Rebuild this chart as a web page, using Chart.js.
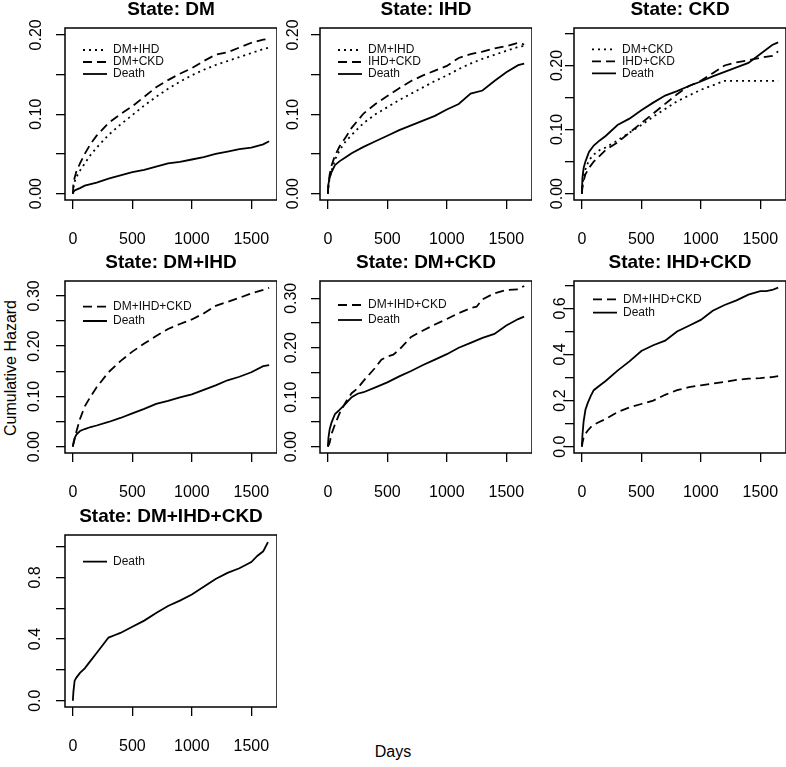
<!DOCTYPE html>
<html>
<head>
<meta charset="utf-8">
<script src="https://cdn.jsdelivr.net/npm/chart.js@4.4.1/dist/chart.umd.min.js"></script>
<style>
  body { margin: 0; background: #fff; width: 786px; height: 767px; position: relative; overflow: hidden;
         font-family: 'Liberation Sans', Arial, sans-serif; }
  canvas { position: absolute; }
  #ylab { position: absolute; left: 11px; top: 368px; transform: translate(-50%, -50%) rotate(-90deg);
          font-size: 16px; white-space: nowrap; }
  #xlab { position: absolute; left: 393px; top: 752px; transform: translate(-50%, -50%); font-size: 16px; }
</style>
</head>
<body>
<div id="ylab">Cumulative Hazard</div>
<div id="xlab">Days</div>
<script>
const gridDays = [0, 5, 15, 30, 60, 100, 150, 200, 300, 400, 500, 600, 700, 800, 900, 1000, 1100, 1200, 1300, 1400, 1500, 1600, 1650];
const p5Days = [0, 5, 15, 30, 60, 100, 150, 200, 250, 300, 400, 450, 500, 550, 600, 700, 800, 900, 1000, 1100, 1200, 1250, 1300, 1400, 1500, 1600, 1650];
const p6Days = [0, 5, 15, 30, 50, 75, 100, 150, 200, 300, 400, 500, 600, 700, 800, 900, 1000, 1100, 1200, 1300, 1400, 1500, 1550, 1600, 1650];
const p7Days = [0, 5, 15, 30, 60, 100, 150, 200, 250, 300, 350, 400, 500, 600, 700, 800, 900, 1000, 1100, 1200, 1300, 1400, 1500, 1550, 1600, 1640];

// State: DM
const p1DmIhd = [0, 0.008, 0.015, 0.021, 0.029, 0.038, 0.049, 0.058, 0.074, 0.087, 0.099, 0.111, 0.122, 0.132, 0.141, 0.149, 0.156, 0.162, 0.167, 0.172, 0.177, 0.182, 0.184];
const p1DmCkd = [0, 0.012, 0.02, 0.028, 0.038, 0.05, 0.063, 0.073, 0.089, 0.1, 0.11, 0.122, 0.134, 0.143, 0.151, 0.158, 0.167, 0.175, 0.178, 0.184, 0.19, 0.194, 0.195];
const p1Death = [0, 0.002, 0.004, 0.005, 0.007, 0.01, 0.012, 0.014, 0.019, 0.023, 0.027, 0.03, 0.034, 0.038, 0.04, 0.043, 0.046, 0.05, 0.053, 0.056, 0.058, 0.062, 0.066];
// State: IHD
const p2DmIhd = [0, 0.01, 0.02, 0.028, 0.043, 0.055, 0.066, 0.074, 0.089, 0.1, 0.109, 0.118, 0.126, 0.134, 0.142, 0.149, 0.157, 0.164, 0.17, 0.175, 0.18, 0.185, 0.186];
const p2IhdCkd = [0, 0.012, 0.024, 0.035, 0.048, 0.06, 0.071, 0.083, 0.101, 0.113, 0.123, 0.133, 0.142, 0.149, 0.155, 0.161, 0.171, 0.176, 0.179, 0.183, 0.186, 0.19, 0.188];
const p2Death = [0, 0.012, 0.02, 0.027, 0.036, 0.041, 0.046, 0.051, 0.059, 0.066, 0.073, 0.08, 0.086, 0.092, 0.098, 0.106, 0.113, 0.126, 0.13, 0.142, 0.153, 0.162, 0.164];
// State: CKD
const p3DmCkd = [0, 0.012, 0.026, 0.038, 0.052, 0.061, 0.068, 0.072, 0.083, 0.095, 0.107, 0.12, 0.132, 0.144, 0.153, 0.162, 0.169, 0.176, 0.176, 0.176, 0.176, 0.176, 0.176];
const p3IhdCkd = [0, 0.01, 0.02, 0.03, 0.04, 0.05, 0.059, 0.068, 0.08, 0.095, 0.11, 0.125, 0.14, 0.155, 0.168, 0.176, 0.188, 0.2, 0.205, 0.208, 0.212, 0.215, 0.222];
const p3Death = [0, 0.025, 0.04, 0.05, 0.065, 0.075, 0.083, 0.09, 0.107, 0.117, 0.13, 0.142, 0.153, 0.16, 0.168, 0.175, 0.183, 0.19, 0.197, 0.204, 0.218, 0.232, 0.236];
// State: DM+IHD
const p4All = [0, 0.005, 0.015, 0.03, 0.055, 0.08, 0.1, 0.118, 0.148, 0.17, 0.189, 0.205, 0.22, 0.234, 0.244, 0.253, 0.265, 0.28, 0.288, 0.296, 0.305, 0.312, 0.316];
const p4Death = [0, 0.008, 0.017, 0.024, 0.031, 0.035, 0.039, 0.042, 0.049, 0.057, 0.066, 0.075, 0.085, 0.091, 0.098, 0.104, 0.113, 0.122, 0.132, 0.139, 0.148, 0.16, 0.162];
// State: DM+CKD
const p5All = [0, 0.002, 0.008, 0.025, 0.045, 0.068, 0.09, 0.108, 0.118, 0.133, 0.16, 0.176, 0.182, 0.186, 0.196, 0.222, 0.235, 0.247, 0.258, 0.27, 0.28, 0.283, 0.298, 0.31, 0.317, 0.318, 0.325];
const p5Death = [0, 0.018, 0.035, 0.048, 0.066, 0.075, 0.087, 0.1, 0.107, 0.11, 0.12, 0.125, 0.13, 0.136, 0.142, 0.153, 0.165, 0.176, 0.187, 0.2, 0.21, 0.215, 0.22, 0.228, 0.245, 0.258, 0.263];
// State: IHD+CKD
const p6All = [0, 0.015, 0.04, 0.055, 0.07, 0.085, 0.095, 0.108, 0.12, 0.15, 0.17, 0.185, 0.2, 0.225, 0.245, 0.258, 0.266, 0.274, 0.281, 0.29, 0.295, 0.297, 0.3, 0.302, 0.306];
const p6Death = [0, 0.05, 0.11, 0.16, 0.19, 0.22, 0.245, 0.265, 0.285, 0.33, 0.37, 0.415, 0.44, 0.46, 0.5, 0.525, 0.55, 0.59, 0.615, 0.635, 0.66, 0.675, 0.675, 0.68, 0.69];
// State: DM+IHD+CKD
const p7Death = [0, 0.06, 0.13, 0.15, 0.18, 0.21, 0.26, 0.31, 0.36, 0.41, 0.425, 0.44, 0.48, 0.52, 0.57, 0.615, 0.65, 0.69, 0.74, 0.79, 0.83, 0.86, 0.9, 0.94, 0.97, 1.03];

// axis ticks
const xTicks = [0, 500, 1000, 1500];
const xTickLabels = ['0', '500', '1000', '1500'];
const yTicks20 = [0, 0.05, 0.1, 0.15, 0.2];
const yLabels20 = ['0.00', '', '0.10', '', '0.20'];
const yTicks25 = [0, 0.05, 0.1, 0.15, 0.2, 0.25];
const yLabels25 = ['0.00', '', '0.10', '', '0.20', ''];
const yTicks30 = [0, 0.05, 0.1, 0.15, 0.2, 0.25, 0.3];
const yLabels30 = ['0.00', '', '0.10', '', '0.20', '', '0.30'];
const yTicks70 = [0, 0.1, 0.2, 0.3, 0.4, 0.5, 0.6, 0.7];
const yLabels70 = ['0.0', '', '0.2', '', '0.4', '', '0.6', ''];
const yTicks100 = [0, 0.2, 0.4, 0.6, 0.8, 1.0];
const yLabels100 = ['0.0', '', '0.4', '', '0.8', ''];

const panels = [
  { title: 'State: DM', days: gridDays, col: 0, row: 0, yMin: -0.008, yMax: 0.2086, ticks: yTicks20, labels: yLabels20,
    labOff: 28.3, legDx: 18, legDy: 22, legGap: 0,
    series: [['DM+IHD', p1DmIhd, 'dot'], ['DM+CKD', p1DmCkd, 'dash'], ['Death', p1Death, 'solid']] },
  { title: 'State: IHD', days: gridDays, col: 1, row: 0, yMin: -0.008, yMax: 0.2088, ticks: yTicks20, labels: yLabels20,
    labOff: 26.6, legDx: 18, legDy: 22, legGap: 0,
    series: [['DM+IHD', p2DmIhd, 'dot'], ['IHD+CKD', p2IhdCkd, 'dash'], ['Death', p2Death, 'solid']] },
  { title: 'State: CKD', days: gridDays, col: 2, row: 0, yMin: -0.01, yMax: 0.2585, ticks: yTicks25, labels: yLabels25,
    labOff: 16, legDx: 18, legDy: 21.3, legGap: 0,
    series: [['DM+CKD', p3DmCkd, 'dot'], ['IHD+CKD', p3IhdCkd, 'dash'], ['Death', p3Death, 'solid']] },
  { title: 'State: DM+IHD', days: gridDays, col: 0, row: 1, yMin: -0.0127, yMax: 0.3295, ticks: yTicks30, labels: yLabels30,
    labOff: 30, legDx: 18, legDy: 25.7, legGap: 2.3,
    series: [['DM+IHD+CKD', p4All, 'dash'], ['Death', p4Death, 'solid']] },
  { title: 'State: DM+CKD', days: p5Days, col: 1, row: 1, yMin: -0.0129, yMax: 0.335, ticks: yTicks30, labels: yLabels30,
    labOff: 28.3, legDx: 18, legDy: 24, legGap: 3,
    series: [['DM+IHD+CKD', p5All, 'dash'], ['Death', p5Death, 'solid']] },
  { title: 'State: IHD+CKD', days: p6Days, col: 2, row: 1, yMin: -0.0277, yMax: 0.719, ticks: yTicks70, labels: yLabels70,
    labOff: 13, legDx: 19, legDy: 18.3, legGap: 1.4,
    series: [['DM+IHD+CKD', p6All, 'dash'], ['Death', p6Death, 'solid']] },
  { title: 'State: DM+IHD+CKD', days: p7Days, col: 0, row: 2, yMin: -0.041, yMax: 1.076, ticks: yTicks100, labels: yLabels100,
    labOff: 29, legDx: 18, legDy: 26.7, legGap: 0,
    series: [['Death', p7Death, 'solid']] }
];

// page geometry (plot boxes)
const colLeft = [65, 320, 574];
const rowTop = [28, 281, 535];
const boxW = 212, boxH = 172;
const yAxisW = 60, titleH = 30, xAxisH = 50, tickLen = 9;

const dashFor = { dot: [2, 4], dash: [9, 5], solid: [] };

Chart.defaults.font.family = "'Liberation Sans', Arial, sans-serif";
Chart.defaults.color = '#000';

const boxFrame = {
  id: 'boxFrame',
  afterDatasetsDraw(chart) {
    const a = chart.chartArea, c = chart.ctx;
    c.save();
    c.strokeStyle = '#000';
    c.lineWidth = 1.5;
    c.strokeRect(a.left, a.top, a.right - a.left, a.bottom - a.top);
    c.restore();
  }
};

// R-style legend inset, no frame
const legendSpot = {
  id: 'legendSpot',
  afterLayout(chart, args, opts) {
    const lg = chart.legend;
    if (!lg) return;
    const pad = lg.options.labels.padding;
    lg.left = chart.chartArea.left + opts.dx - pad;
    lg.top = chart.chartArea.top + opts.dy - pad - 6;
  }
};

const baseLabels = Chart.defaults.plugins.legend.labels.generateLabels;

const meas = document.createElement('canvas').getContext('2d');
meas.font = "16px 'Liberation Sans'";

panels.forEach(p => {
  const cv = document.createElement('canvas');
  cv.width = yAxisW + boxW;
  cv.height = titleH + boxH + xAxisH;
  cv.style.left = (colLeft[p.col] - yAxisW) + 'px';
  cv.style.top = (rowTop[p.row] - titleH) + 'px';
  document.body.appendChild(cv);

  const widest = Math.max(...p.labels.map(s => meas.measureText(s).width));
  const yPad = p.labOff - tickLen - widest / 2;

  const tickGrid = { drawOnChartArea: false, drawTicks: true, tickLength: tickLen, color: '#000', lineWidth: 1.3 };

  new Chart(cv, {
    type: 'line',
    data: {
      datasets: p.series.map(([label, vals, style]) => ({
        label: label,
        data: p.days.map((d, i) => ({ x: d, y: vals[i] })),
        borderColor: '#000',
        backgroundColor: '#000',
        borderWidth: 1.8,
        borderDash: dashFor[style],
        pointRadius: 0,
        tension: 0,
        fill: false
      }))
    },
    options: {
      responsive: false,
      animation: false,
      layout: { padding: 0 },
      scales: {
        x: {
          type: 'linear', min: -66, max: 1716,
          afterBuildTicks: s => { s.ticks = xTicks.map(v => ({ value: v })); },
          afterFit: s => { s.height = xAxisH; s.paddingLeft = 0; s.paddingRight = 0; },
          grid: tickGrid,
          border: { display: false },
          ticks: { autoSkip: false, maxRotation: 0, padding: 21, font: { size: 16 }, color: '#000',
                   callback: (v, i) => xTickLabels[i] }
        },
        y: {
          type: 'linear', min: p.yMin, max: p.yMax,
          afterBuildTicks: s => { s.ticks = p.ticks.map(v => ({ value: v })); },
          afterFit: s => { s.width = yAxisW; s.paddingTop = 0; s.paddingBottom = 0; },
          grid: tickGrid,
          border: { display: false },
          ticks: { autoSkip: false, minRotation: 90, maxRotation: 90, crossAlign: 'center', padding: yPad,
                   font: { size: 16 }, color: '#000', callback: (v, i) => p.labels[i] }
        }
      },
      plugins: {
        title: { display: true, text: p.title, fullSize: false, color: '#000',
                 font: { size: 19, weight: 'bold', lineHeight: 1 }, padding: { top: 2, bottom: 9 } },
        legend: {
          position: 'chartArea', align: 'start',
          labels: {
            usePointStyle: true, pointStyle: 'line', pointStyleWidth: 24, padding: p.legGap,
            font: { size: 12 }, color: '#111',
            generateLabels: chart => baseLabels(chart).map(item => {
              const ds = chart.data.datasets[item.datasetIndex];
              item.lineDash = ds.borderDash;
              item.lineWidth = ds.borderWidth;
              item.strokeStyle = ds.borderColor;
              return item;
            })
          }
        },
        tooltip: { enabled: false },
        legendSpot: { dx: p.legDx, dy: p.legDy }
      }
    },
    plugins: [boxFrame, legendSpot]
  });
});
</script>
</body>
</html>
